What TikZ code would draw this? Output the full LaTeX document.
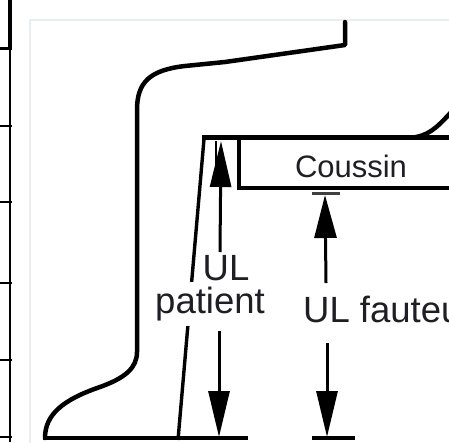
\documentclass[tikz,border=0pt]{standalone}
\usepackage{fontspec}
\setmainfont{Liberation Sans}
\usetikzlibrary{arrows.meta}
\definecolor{panelc}{RGB}{232,238,247}
\definecolor{textc}{RGB}{30,30,36}
\begin{document}
\begin{tikzpicture}[x=1pt,y=-1pt,
  figline/.style={line width=4.5pt, line join=round, line cap=round},
  shinline/.style={line width=3.4pt},
  arr/.style={line width=3pt, -{Triangle[length=46pt,width=21pt]}},
  bigtxt/.style={font=\fontsize{36.5}{36.5}\selectfont, text=textc},
  lbl/.style={bigtxt, fill=white, inner xsep=1pt, inner ysep=3pt},
  tablerule/.style={line width=2pt}
]
\useasboundingbox (0,0) rectangle (449,442);
\clip (0,0) rectangle (449,442);
\fill[white] (0,0) rectangle (449,442);
% table rules at left
\draw[line width=4.5pt] (10,0) -- (10,48);
\draw[tablerule] (10,48) -- (10,442);
\draw[line width=3pt] (0,48) -- (12,48);
\foreach \yy in {126,202,283,360,437} {\draw[tablerule] (0,\yy) -- (12,\yy);}
% panel
\draw[panelc, line width=1.5pt] (30,20) rectangle (470,470);
% back and foot contour
\draw[figline] (345,22) -- (345,45) -- (225,62) -- (185,66)
  .. controls (150,70) and (137,82) .. (137,110) -- (137,352)
  .. controls (137,368) and (125,378) .. (100,387)
  .. controls (62,400) and (45,415) .. (45,438);
% floor
\draw[line width=4.5pt] (43,438) -- (248,438);
\draw[line width=4.5pt] (312,438) -- (355,438);
% shin and seat
\draw[shinline] (178,440) -- (204,139);
\draw[line width=5pt] (202.3,137.5) -- (460,137.5);
% cushion
\draw[line width=4pt, line join=miter] (460,188) -- (239,188) -- (239,138);
% thigh curve at right
\draw[figline] (416,137) .. controls (432,134) and (440,124) .. (455,108);
% small line near knee
\draw[line width=2pt] (216,141) -- (216,176);
% fauteuil top bar
\draw[line width=3pt, black!75] (312,193) -- (340,193);
% labels
\node[lbl, anchor=base] (ULp) at (226,280) {UL};
\node[lbl, anchor=base, inner ysep=5pt] (patient) at (210,313) {patient};
\node[bigtxt, anchor=base west, inner sep=0pt] (ULf) at (303,322) {UL fauteu};
\node[font=\fontsize{31}{31}\selectfont, text=textc, anchor=base] (coussin) at (351,177) {Coussin};
% arrows
\coordinate (kneeP) at (221,141);
\coordinate (pUtop) at (220,252);
\coordinate (pLtop) at (219,331);
\coordinate (floorP) at (219,437);
\coordinate (cushB) at (325,195);
\coordinate (fUbot) at (326,283);
\coordinate (fLtop) at (327,343);
\coordinate (floorF) at (327,437);
\draw[arr] (pUtop) -- (kneeP);
\draw[arr] (pLtop) -- (floorP);
\draw[arr, -{Triangle[length=43pt,width=22pt]}] (fUbot) -- (cushB);
\draw[arr] (fLtop) -- (floorF);
\end{tikzpicture}
\end{document}
